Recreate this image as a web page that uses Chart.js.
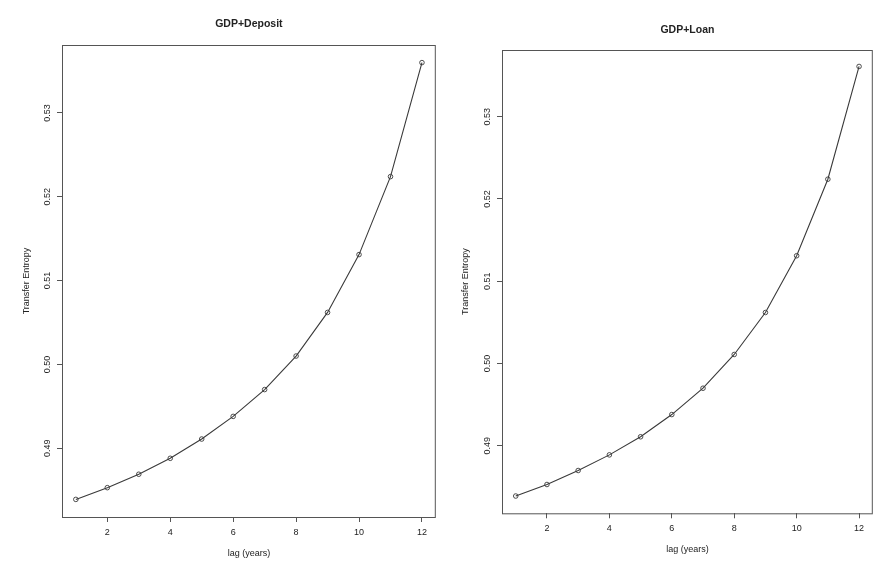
<!DOCTYPE html>
<html>
<head>
<meta charset="utf-8">
<script src="https://cdn.jsdelivr.net/npm/chart.js@4"></script>
<style>
  html, body { margin: 0; padding: 0; background: #fff; overflow: hidden; }
  #wrap { position: relative; width: 874px; height: 565px; overflow: hidden; }
  .panel { position: absolute; top: 0; height: 565px; }
</style>
</head>
<body>
<div id="wrap">
  <div class="panel" style="left:0;width:439px"><canvas id="chartDeposit"></canvas></div>
  <div class="panel" style="left:440px;width:436px"><canvas id="chartLoan"></canvas></div>
</div>
<script>
// data
const lags = [1, 2, 3, 4, 5, 6, 7, 8, 9, 10, 11, 12];
const teDeposit = [0.4839, 0.4853, 0.4869, 0.4888, 0.4911, 0.4938, 0.4970, 0.5010, 0.5062, 0.5131, 0.5224, 0.5360];
const teLoan = [0.4839, 0.4853, 0.4870, 0.4889, 0.4911, 0.4938, 0.4970, 0.5011, 0.5062, 0.5131, 0.5224, 0.5361];
const xTicks = [2, 4, 6, 8, 10, 12];
const yTicks = [0.49, 0.50, 0.51, 0.52, 0.53];

const FONT = "'Liberation Sans', Arial, Helvetica, sans-serif";
const INK = '#222';
const LINE = '#3a3a3a';

// R-style rotated y tick labels + box around the plot
const rStyle = {
  id: 'rStyle',
  afterDraw(chart) {
    const { ctx, chartArea: a } = chart;
    const y = chart.scales.y;
    ctx.save();
    ctx.strokeStyle = '#555';
    ctx.lineWidth = 1;
    ctx.strokeRect(a.left + 0.5, a.top + 0.5, a.right - a.left - 1, a.bottom - a.top);
    ctx.fillStyle = INK;
    ctx.font = '9px ' + FONT;
    ctx.textAlign = 'center';
    ctx.textBaseline = 'middle';
    y.ticks.forEach(t => {
      const py = y.getPixelForValue(t.value);
      ctx.save();
      ctx.translate(a.left - 14.5, py);
      ctx.rotate(-Math.PI / 2);
      ctx.fillText(t.value.toFixed(2), 0, 0);
      ctx.restore();
    });
    ctx.restore();
  }
};

function makeChart(id, title, values, o) {
  const ctx = document.getElementById(id).getContext('2d');
  return new Chart(ctx, {
    type: 'scatter',
    data: {
      datasets: [{
        data: lags.map((x, i) => ({ x: x, y: values[i] })),
        showLine: true,
        borderColor: LINE,
        borderWidth: 1.1,
        tension: 0,
        pointRadius: 2.3,
        pointHoverRadius: 2.3,
        pointBorderWidth: 0.9,
        pointHoverBorderWidth: 0.9,
        pointBorderColor: LINE,
        pointBackgroundColor: 'rgba(0,0,0,0)'
      }]
    },
    options: {
      responsive: true,
      maintainAspectRatio: false,
      animation: false,
      layout: { padding: 0 },
      plugins: {
        legend: { display: false },
        tooltip: { enabled: false },
        title: {
          display: true,
          text: title,
          fullSize: false,
          color: INK,
          font: { family: FONT, size: 10.5, weight: 'bold' },
          padding: { top: o.titleTop, bottom: o.titleBottom }
        }
      },
      scales: {
        x: {
          type: 'linear',
          min: 0.56,
          max: 12.44,
          afterBuildTicks: s => { s.ticks = xTicks.map(v => ({ value: v })); },
          afterFit: s => { s.height = o.xHeight; s.paddingLeft = 0; s.paddingRight = 0; },
          border: { display: false },
          grid: { drawOnChartArea: false, drawTicks: true, tickLength: 5, color: '#555', tickColor: '#555' },
          ticks: { color: INK, font: { family: FONT, size: 9 }, padding: 5, maxRotation: 0 },
          title: {
            display: true,
            text: 'lag (years)',
            color: INK,
            font: { family: FONT, size: 9 },
            padding: { top: 0, bottom: o.xTitleBottom }
          }
        },
        y: {
          type: 'linear',
          min: 0.4818,
          max: 0.5381,
          afterBuildTicks: s => { s.ticks = yTicks.map(v => ({ value: v })); },
          afterFit: s => { s.width = 62; s.paddingTop = 0; s.paddingBottom = 0; },
          border: { display: false },
          grid: { drawOnChartArea: false, drawTicks: true, tickLength: 5, color: '#555', tickColor: '#555' },
          ticks: { display: false },
          title: {
            display: true,
            text: 'Transfer Entropy',
            color: INK,
            font: { family: FONT, size: 9 },
            padding: { top: o.yTitleLeft, bottom: 0 }
          }
        }
      }
    },
    plugins: [rStyle]
  });
}

makeChart('chartDeposit', 'GDP+Deposit', teDeposit,
  { titleTop: 17.5, titleBottom: 14.9, xHeight: 48, xTitleBottom: 5.6, yTitleLeft: 21.3 });
makeChart('chartLoan', 'GDP+Loan', teLoan,
  { titleTop: 23.5, titleBottom: 13.9, xHeight: 51.7, xTitleBottom: 10.3, yTitleLeft: 20.6 });
</script>
</body>
</html>
